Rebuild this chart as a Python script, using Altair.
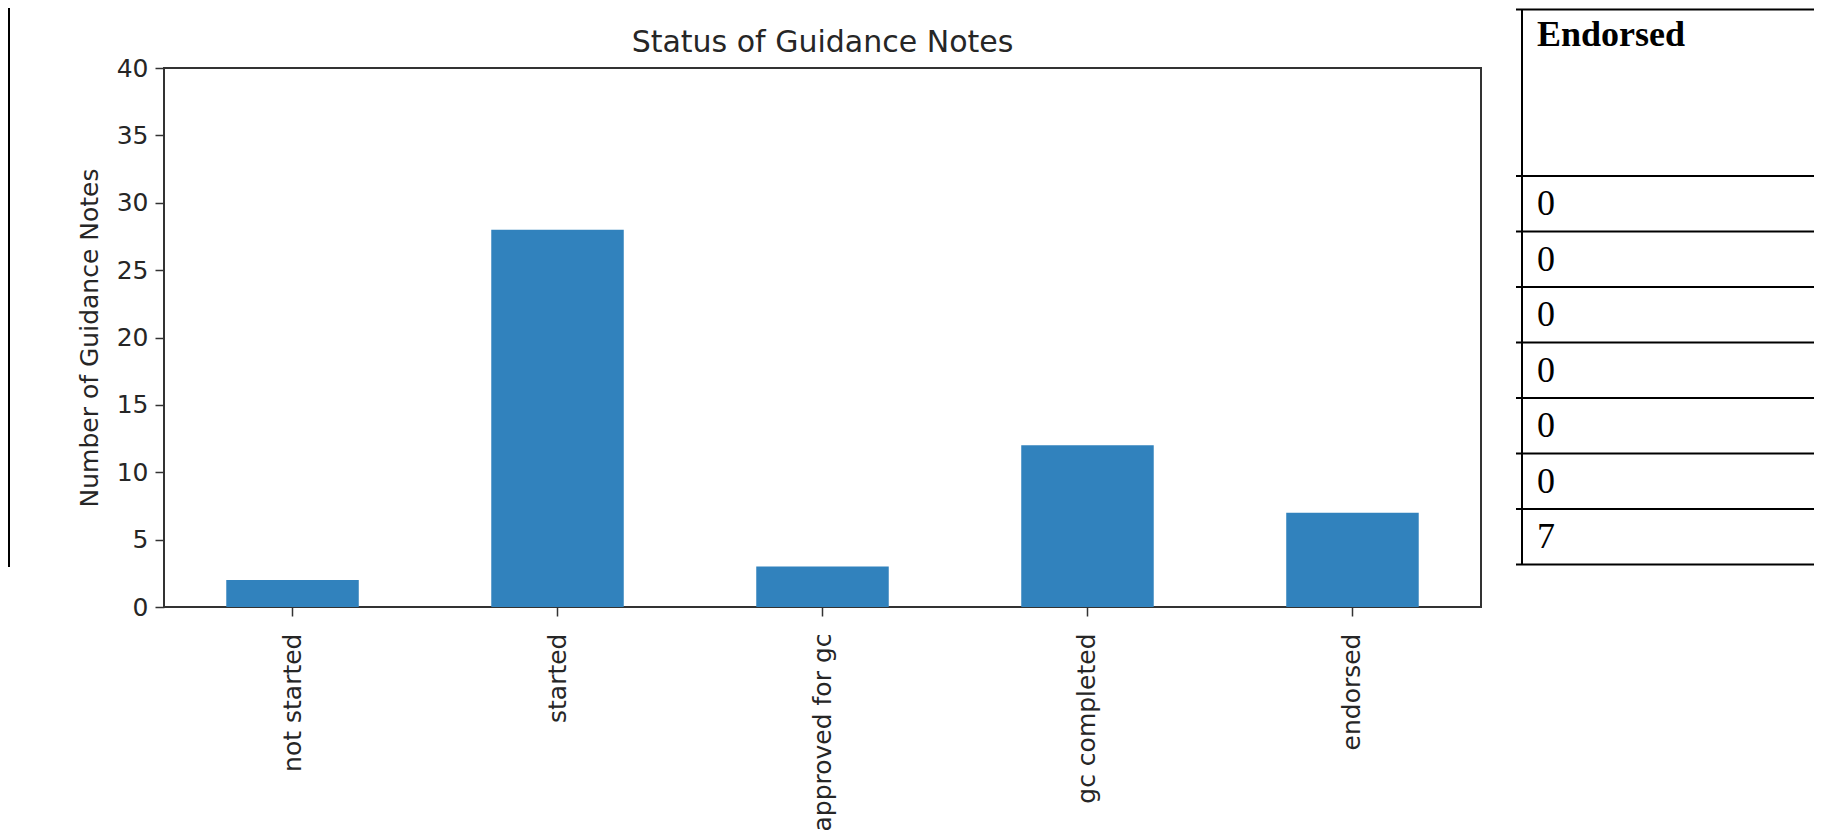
import altair as alt
import pandas as pd

# ---- data ----
chart_title = "Status of Guidance Notes"
categories = ["not started", "started", "approved for gc", "gc completed", "endorsed"]
counts = [2, 28, 3, 12, 7]
y_ticks = [0, 5, 10, 15, 20, 25, 30, 35, 40]
table_header = "Endorsed"
table_values = ["0", "0", "0", "0", "0", "0", "7"]

bars_df = pd.DataFrame({"status": categories, "count": counts})
n_rows = len(table_values)
cells_df = pd.DataFrame({"row": list(range(n_rows)), "text": table_values})
header_df = pd.DataFrame({"row": [-3], "text": [table_header]})
lines_df = pd.DataFrame({"row": [-3] + list(range(n_rows + 1))})
vline_df = pd.DataFrame({"row": [-3], "row2": [n_rows]})
title_df = pd.DataFrame({"text": [chart_title]})

PLOT_W = 1317
PLOT_H = 539

# table rows placed through their own (independent) scale
table_scale = alt.Scale(domain=[-3, n_rows], range=[-58.5, 496.5], nice=False, zero=False)

TXT = "#262626"
EDGE = "#333333"

bars = alt.Chart(bars_df).mark_bar(color="#3182bd").encode(
    x=alt.X(
        "status:N",
        sort=categories,
        scale=alt.Scale(paddingInner=0.5, paddingOuter=0.235),
        axis=alt.Axis(
            title=None, labelAngle=270, labelFont="DejaVu Sans", labelFontSize=25,
            labelColor=TXT, labelPadding=17, labelLimit=0, tickSize=9, tickWidth=1.5,
            tickColor=EDGE, domain=False, grid=False,
        ),
    ),
    y=alt.Y(
        "count:Q",
        scale=alt.Scale(domain=[0, 40], nice=False),
        axis=alt.Axis(
            values=y_ticks, title="Number of Guidance Notes", titleFont="DejaVu Sans",
            titleFontSize=25, titleFontWeight="normal", titleColor=TXT, titlePadding=14,
            labelFont="DejaVu Sans", labelFontSize=25, labelColor=TXT, labelPadding=7,
            labelFlush=False, tickSize=9, tickWidth=1.5, tickColor=EDGE,
            domain=False, grid=False,
        ),
    ),
)

title_txt = alt.Chart(title_df).mark_text(
    font="DejaVu Sans", fontSize=30, color=TXT, align="center", baseline="alphabetic",
).encode(
    x=alt.value(PLOT_W / 2),
    y=alt.value(-16),
    text="text:N",
)

left_line = alt.Chart(vline_df).mark_rule(color="black", strokeWidth=2).encode(
    x=alt.value(-155), y=alt.value(-60), y2=alt.value(499)
)

table_vline = alt.Chart(vline_df).mark_rule(color="black", strokeWidth=2).encode(
    x=alt.value(1358),
    y=alt.Y("row:Q", scale=table_scale, axis=None),
    y2="row2:Q",
)

table_hlines = alt.Chart(lines_df).mark_rule(color="black", strokeWidth=2).encode(
    x=alt.value(1352),
    x2=alt.value(1660),
    y=alt.Y("row:Q", scale=table_scale, axis=None),
)

table_header_txt = alt.Chart(header_df).mark_text(
    font="Liberation Serif", fontSize=36, fontWeight="bold", align="left",
    baseline="alphabetic", dy=36, color="black",
).encode(
    x=alt.value(1373),
    y=alt.Y("row:Q", scale=table_scale, axis=None),
    text="text:N",
)

table_cells = alt.Chart(cells_df).mark_text(
    font="Liberation Serif", fontSize=36, align="left",
    baseline="alphabetic", dy=39, color="black",
).encode(
    x=alt.value(1373),
    y=alt.Y("row:Q", scale=table_scale, axis=None),
    text="text:N",
)

chart = (
    alt.layer(bars, title_txt, left_line, table_vline, table_hlines, table_header_txt, table_cells)
    .resolve_scale(y="independent")
    .properties(
        width=PLOT_W,
        height=PLOT_H,
        autosize="none",
        padding={"left": 156, "top": 60, "right": 333, "bottom": 229},
        background="white",
    )
    .configure_view(stroke=EDGE, strokeWidth=2)
)

chart.save("out.html", embed_options={"renderer": "svg", "actions": False})
